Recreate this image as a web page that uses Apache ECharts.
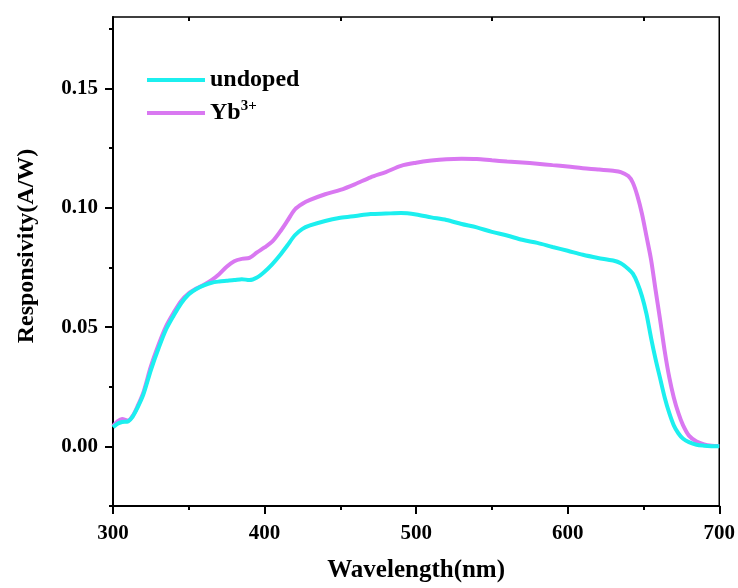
<!DOCTYPE html>
<html>
<head>
<meta charset="utf-8">
<script src="https://cdn.jsdelivr.net/npm/echarts@6/dist/echarts.min.js"></script>
<style>
  html, body { margin: 0; padding: 0; background: #fff; }
  #chart { width: 738px; height: 588px; }
</style>
</head>
<body>
<div id="chart"></div>
<script>
// Wavelength samples (nm)
const wavelength = [300, 303, 306, 310, 313, 316, 320, 325, 330, 335, 340, 345, 350, 355, 360, 365, 370, 375, 380, 385, 390, 395, 400, 405, 410, 415, 420, 425, 430, 440, 450, 460, 470, 480, 490, 500, 510, 520, 530, 540, 550, 560, 570, 580, 590, 600, 610, 620, 630, 635, 640, 643, 646, 649, 652, 655, 658, 661, 664, 667, 670, 673, 676, 680, 685, 690, 695, 700];

// Responsivity (A/W) of the undoped device
const undoped = [0.0080, 0.0095, 0.0102, 0.0105, 0.0125, 0.0160, 0.0217, 0.0320, 0.0410, 0.0490, 0.0548, 0.0600, 0.0638, 0.0660, 0.0675, 0.0686, 0.0691, 0.0694, 0.0697, 0.0701, 0.0697, 0.0708, 0.0732, 0.0763, 0.0800, 0.0842, 0.0885, 0.0912, 0.0926, 0.0945, 0.0958, 0.0966, 0.0974, 0.0976, 0.0978, 0.0972, 0.0960, 0.0949, 0.0932, 0.0918, 0.0899, 0.0884, 0.0866, 0.0853, 0.0836, 0.0820, 0.0803, 0.0790, 0.0779, 0.0768, 0.0744, 0.0724, 0.0685, 0.0630, 0.0555, 0.0455, 0.0365, 0.0285, 0.0205, 0.0140, 0.0088, 0.0055, 0.0033, 0.0018, 0.0007, 0.0003, 0.0001, 0.0000];

// Responsivity (A/W) of the Yb3+ doped device
const ybDoped = [0.0085, 0.0105, 0.0115, 0.0108, 0.0128, 0.0165, 0.0225, 0.0335, 0.0425, 0.0503, 0.0560, 0.0610, 0.0642, 0.0662, 0.0678, 0.0697, 0.0722, 0.0753, 0.0776, 0.0786, 0.0790, 0.0813, 0.0834, 0.0858, 0.0898, 0.0945, 0.0993, 0.1017, 0.1033, 0.1057, 0.1075, 0.1100, 0.1128, 0.1150, 0.1176, 0.1189, 0.1198, 0.1204, 0.1206, 0.1205, 0.1199, 0.1194, 0.1190, 0.1185, 0.1179, 0.1173, 0.1166, 0.1161, 0.1155, 0.1150, 0.1133, 0.1105, 0.1050, 0.0975, 0.0880, 0.0783, 0.0655, 0.0530, 0.0400, 0.0290, 0.0205, 0.0140, 0.0090, 0.0045, 0.0020, 0.0008, 0.0003, 0.0002];

// Axis ticks
const yMajorTicks = [0, 0.05, 0.10, 0.15];
const yMinorTicks = [-0.025, 0.025, 0.075, 0.125, 0.175];
const xTopTicks = [350, 450, 550, 650];

const FONT = '"Liberation Serif", "Times New Roman", serif';
const pair = (xs, ys) => xs.map((x, i) => [x, ys[i]]);

const chart = echarts.init(document.getElementById('chart'), null, { renderer: 'canvas' });

const yRange = { min: -0.025, max: 0.18 };

chart.setOption({
  animation: false,
  backgroundColor: '#fff',
  grid: {
    left: 113, right: 18, top: 17, bottom: 81,
    show: true, borderColor: '#000', borderWidth: 1.5, backgroundColor: 'transparent'
  },
  legend: {
    data: ['undoped', 'Yb3+'],
    orient: 'vertical',
    left: 147,
    top: 68,
    padding: 0,
    itemWidth: 58,
    itemHeight: 4,
    itemGap: 7,
    icon: 'rect',
    textStyle: {
      fontFamily: FONT, fontWeight: 'bold', fontSize: 24, color: '#000',
      rich: {
        base: { fontFamily: FONT, fontWeight: 'bold', fontSize: 24, color: '#000' },
        sup: { fontFamily: FONT, fontWeight: 'bold', fontSize: 15, color: '#000', padding: [0, 0, 13, 0] }
      }
    },
    formatter: name => name === 'Yb3+' ? '{base|Yb}{sup|3+}' : name
  },
  xAxis: [
    {
      type: 'value', min: 300, max: 700, interval: 100, position: 'bottom',
      name: 'Wavelength(nm)', nameLocation: 'middle', nameGap: 52,
      nameTextStyle: { fontFamily: FONT, fontWeight: 'bold', fontSize: 25, color: '#000' },
      axisLine: { onZero: false, lineStyle: { color: '#000', width: 2 } },
      axisTick: { inside: false, length: 8, lineStyle: { color: '#000', width: 2 } },
      minorTick: { show: true, splitNumber: 2, length: 4, lineStyle: { color: '#000', width: 2 } },
      axisLabel: { margin: 17, fontFamily: FONT, fontWeight: 'bold', fontSize: 21, color: '#000' },
      splitLine: { show: false }
    },
    {
      type: 'value', min: 300, max: 700, position: 'top',
      axisLine: { show: false, onZero: false },
      axisTick: { show: true, inside: true, length: 4, customValues: xTopTicks, lineStyle: { color: '#000', width: 2 } },
      axisLabel: { show: false },
      splitLine: { show: false }
    }
  ],
  yAxis: [
    {
      type: 'value', min: yRange.min, max: yRange.max, position: 'left',
      name: 'Responsivity(A/W)', nameLocation: 'middle', nameGap: 74, nameRotate: 90,
      nameTextStyle: { fontFamily: FONT, fontWeight: 'bold', fontSize: 24, color: '#000', padding: [0, 0, 0, 31] },
      axisLine: { onZero: false, lineStyle: { color: '#000', width: 2 } },
      axisTick: { inside: false, length: 8, customValues: yMajorTicks, lineStyle: { color: '#000', width: 2 } },
      axisLabel: {
        margin: 15, customValues: yMajorTicks,
        fontFamily: FONT, fontWeight: 'bold', fontSize: 21, color: '#000',
        formatter: v => v.toFixed(2)
      },
      splitLine: { show: false }
    },
    {
      type: 'value', min: yRange.min, max: yRange.max, position: 'left',
      axisLine: { show: false, onZero: false },
      axisTick: { inside: false, length: 4, customValues: yMinorTicks, lineStyle: { color: '#000', width: 2 } },
      axisLabel: { show: false },
      splitLine: { show: false }
    }
  ],
  series: [
    {
      name: 'Yb3+', type: 'line', xAxisIndex: 0, yAxisIndex: 0,
      data: pair(wavelength, ybDoped),
      showSymbol: false, smooth: 0.3,
      lineStyle: { color: '#D978F1', width: 4 },
      itemStyle: { color: '#D978F1' },
      z: 2
    },
    {
      name: 'undoped', type: 'line', xAxisIndex: 0, yAxisIndex: 0,
      data: pair(wavelength, undoped),
      showSymbol: false, smooth: 0.3,
      lineStyle: { color: '#1CEFEF', width: 4 },
      itemStyle: { color: '#1CEFEF' },
      z: 3
    }
  ]
});
</script>
</body>
</html>
